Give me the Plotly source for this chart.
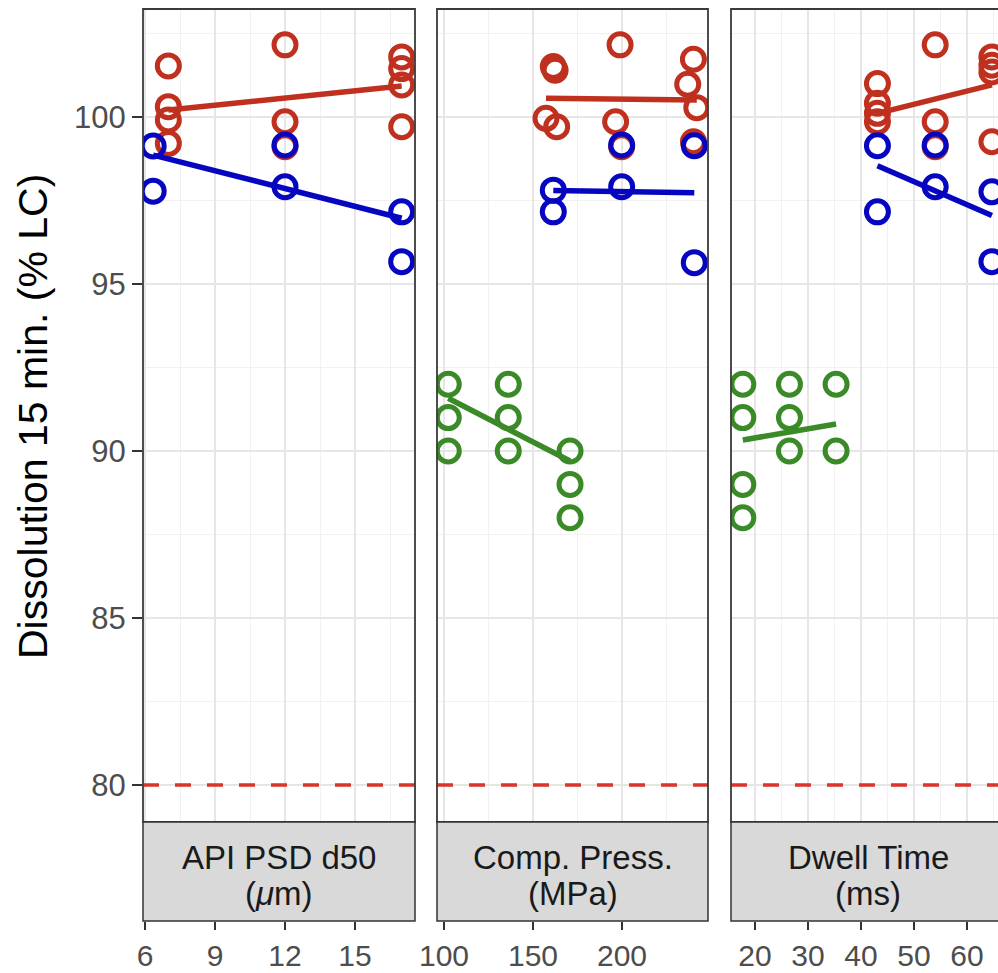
import plotly.graph_objects as go

W, H = 998, 973

# ---------------- data ----------------
facet_line1 = ["API PSD d50", "Comp. Press.", "Dwell Time"]
facet_line2 = ["(<i>μ</i>m)", "(MPa)", "(ms)"]

x_tickvals_1 = [6, 9, 12, 15]
x_tickvals_2 = [100, 150, 200]
x_tickvals_3 = [20, 30, 40, 50, 60]
y_tickvals = [80, 85, 90, 95, 100]
y_title = "Dissolution 15 min. (% LC)"
spec_limit = 80

# Panel 1: API PSD d50 (um)
p1_red_x = [7, 7, 7, 7, 12, 12, 12, 17, 17, 17, 17]
p1_red_y = [101.53, 100.31, 99.91, 99.21, 102.16, 99.86, 99.11, 101.8, 101.45, 100.96, 99.71]
p1_blue_x = [6.35, 6.35, 12, 12, 17, 17]
p1_blue_y = [99.13, 97.78, 99.16, 97.91, 97.16, 95.67]
p1_fit_red_x = [7, 17]
p1_fit_red_y = [100.21, 100.93]
p1_fit_blue_x = [6.35, 17]
p1_fit_blue_y = [98.86, 96.97]

# Panel 2: Compression pressure (MPa)
p2_red_x = [161.4, 162.4, 157.3, 163.3, 198.9, 196.4, 199.8, 240.1, 236.9, 242.0, 240.1]
p2_red_y = [101.51, 101.4, 99.96, 99.71, 102.16, 99.86, 99.11, 101.73, 100.98, 100.28, 99.26]
p2_blue_x = [161.4, 161.4, 199.8, 199.8, 240.6, 240.6]
p2_blue_y = [97.81, 97.16, 99.16, 97.91, 99.14, 95.64]
p2_green_x = [102.4, 102.4, 102.4, 136.1, 136.1, 136.1, 170.8, 170.8, 170.8]
p2_green_y = [92.0, 91.0, 90.0, 92.0, 91.0, 90.0, 90.0, 89.0, 88.0]
p2_fit_red_x = [157.3, 242.0]
p2_fit_red_y = [100.56, 100.51]
p2_fit_blue_x = [161.4, 240.6]
p2_fit_blue_y = [97.80, 97.73]
p2_fit_green_x = [102.4, 170.8]
p2_fit_green_y = [91.58, 89.70]

# Panel 3: Dwell time (ms)
p3_red_x = [43.1, 43.1, 43.1, 43.1, 54, 54, 54, 64.7, 64.7, 64.7, 64.7]
p3_red_y = [101.0, 100.41, 100.11, 99.86, 102.16, 99.86, 99.11, 101.8, 101.55, 101.35, 99.26]
p3_blue_x = [43.1, 43.1, 54, 54, 64.7, 64.7]
p3_blue_y = [99.14, 97.16, 99.16, 97.91, 97.76, 95.67]
p3_green_x = [17.7, 17.7, 17.7, 17.7, 26.5, 26.5, 26.5, 35.3, 35.3]
p3_green_y = [92.0, 91.0, 89.0, 88.0, 92.0, 91.0, 90.0, 92.0, 90.0]
p3_fit_red_x = [43.1, 64.7]
p3_fit_red_y = [100.11, 100.96]
p3_fit_blue_x = [43.1, 64.7]
p3_fit_blue_y = [98.54, 97.05]
p3_fit_green_x = [17.7, 35.3]
p3_fit_green_y = [90.33, 90.81]

# ---------------- styling ----------------
RED = "#C0301F"
BLUE = "#0606C0"
GREEN = "#3A8A28"
HLINE = "#D8362A"
FONT = "Liberation Sans, Arial, Helvetica, sans-serif"

panel_px = [(143, 415), (437, 708), (731, 1005)]
panel_top, panel_bot, strip_bot = 9, 822, 921
x_ranges = [[5.914, 17.571], [96.07, 248.3], [15.47, 65.85]]
x_minor = [[7.5, 10.5, 13.5, 16.5], [125, 175, 225], [25, 35, 45, 55, 65]]
y_range = [78.892, 103.234]
y_minor = [82.5, 87.5, 92.5, 97.5, 102.5]


def fx(p):
    return p / W


def fy(p):
    return 1 - p / H


fig = go.Figure()

panels = [
    dict(pts=[(p1_red_x, p1_red_y, RED), (p1_blue_x, p1_blue_y, BLUE)],
         fits=[(p1_fit_red_x, p1_fit_red_y, RED), (p1_fit_blue_x, p1_fit_blue_y, BLUE)]),
    dict(pts=[(p2_red_x, p2_red_y, RED), (p2_blue_x, p2_blue_y, BLUE), (p2_green_x, p2_green_y, GREEN)],
         fits=[(p2_fit_red_x, p2_fit_red_y, RED), (p2_fit_blue_x, p2_fit_blue_y, BLUE),
               (p2_fit_green_x, p2_fit_green_y, GREEN)]),
    dict(pts=[(p3_red_x, p3_red_y, RED), (p3_blue_x, p3_blue_y, BLUE), (p3_green_x, p3_green_y, GREEN)],
         fits=[(p3_fit_red_x, p3_fit_red_y, RED), (p3_fit_blue_x, p3_fit_blue_y, BLUE),
               (p3_fit_green_x, p3_fit_green_y, GREEN)]),
]

for i, pan in enumerate(panels):
    xa = "x" if i == 0 else f"x{i+1}"
    ya = "y" if i == 0 else f"y{i+1}"
    for xs, ys, col in pan["pts"]:
        fig.add_trace(go.Scatter(x=xs, y=ys, xaxis=xa, yaxis=ya, mode="markers",
                                 marker=dict(symbol="circle-open", size=22, color=col,
                                             line=dict(width=5, color=col)),
                                 showlegend=False, hoverinfo="skip"))
    for xs, ys, col in pan["fits"]:
        fig.add_trace(go.Scatter(x=xs, y=ys, xaxis=xa, yaxis=ya, mode="lines",
                                 line=dict(color=col, width=5.5),
                                 showlegend=False, hoverinfo="skip"))

x_ticks = [x_tickvals_1, x_tickvals_2, x_tickvals_3]
layout = dict(width=W, height=H, autosize=False, margin=dict(l=0, r=0, t=0, b=0, autoexpand=False),
              paper_bgcolor="white", plot_bgcolor="white", showlegend=False,
              font=dict(family=FONT))

for i in range(3):
    k = "" if i == 0 else str(i + 1)
    x0, x1 = panel_px[i]
    dom = [fx(x0), min(1.0, fx(x1))]
    layout["xaxis" + k] = dict(
        domain=dom, range=x_ranges[i], anchor="free", position=fy(strip_bot),
        tickmode="array", tickvals=x_ticks[i], ticktext=[str(v) for v in x_ticks[i]],
        ticks="outside", ticklen=8, tickwidth=2, tickcolor="#333333",
        tickfont=dict(size=30, color="#4d4d4d", family=FONT),
        showgrid=True, gridcolor="#e6e6e6", gridwidth=1.6, zeroline=False, showline=False,
        minor=dict(tickvals=x_minor[i], showgrid=True, gridcolor="#f1f1f1", gridwidth=1.0, ticks=""),
        fixedrange=True, automargin=False,
    )
    layout["yaxis" + k] = dict(
        domain=[fy(panel_bot), fy(panel_top)], range=y_range, anchor="x" + k,
        tickmode="array", tickvals=y_tickvals, ticktext=[str(v) for v in y_tickvals],
        ticks="outside" if i == 0 else "", ticklen=10, tickwidth=2, tickcolor="#333333",
        showticklabels=(i == 0),
        tickfont=dict(size=31, color="#4d4d4d", family=FONT),
        showgrid=True, gridcolor="#e6e6e6", gridwidth=1.6, zeroline=False, showline=False,
        minor=dict(tickvals=y_minor, showgrid=True, gridcolor="#f1f1f1", gridwidth=1.0, ticks=""),
        fixedrange=True, automargin=False,
    )

shapes = []
annotations = []
for i in range(3):
    k = "" if i == 0 else str(i + 1)
    x0, x1 = panel_px[i]
    # dashed specification line
    shapes.append(dict(type="line", xref=f"x{k} domain", yref=f"y{k}", x0=0, x1=1,
                       y0=spec_limit, y1=spec_limit,
                       line=dict(color=HLINE, width=3.5, dash="16px,16px"), layer="above"))
    # panel border
    shapes.append(dict(type="rect", xref="paper", yref="paper", x0=fx(x0), x1=fx(x1),
                       y0=fy(panel_bot), y1=fy(panel_top),
                       line=dict(color="#3a3a3a", width=1.8), fillcolor="rgba(0,0,0,0)", layer="above"))
    # strip
    shapes.append(dict(type="rect", xref="paper", yref="paper", x0=fx(x0), x1=fx(x1),
                       y0=fy(strip_bot), y1=fy(panel_bot),
                       line=dict(color="#333333", width=1.5), fillcolor="#d9d9d9", layer="above"))
    cx = fx((x0 + x1) / 2)
    annotations.append(dict(x=cx, y=fy(857), xref="paper", yref="paper", text=facet_line1[i],
                            showarrow=False, xanchor="center", yanchor="middle",
                            font=dict(size=33, color="#1a1a1a", family=FONT)))
    annotations.append(dict(x=cx, y=fy(893), xref="paper", yref="paper", text=facet_line2[i],
                            showarrow=False, xanchor="center", yanchor="middle",
                            font=dict(size=33, color="#1a1a1a", family=FONT)))

annotations.append(dict(x=fx(33), y=fy(417), xref="paper", yref="paper", text=y_title,
                        textangle=-90, showarrow=False, xanchor="center", yanchor="middle",
                        font=dict(size=41, color="black", family=FONT)))

layout["shapes"] = shapes
layout["annotations"] = annotations
fig.update_layout(**layout)

fig.write_html("out.html", config={"displayModeBar": False, "responsive": False},
               post_script="document.body.style.margin='0';document.body.style.overflow='hidden';")
